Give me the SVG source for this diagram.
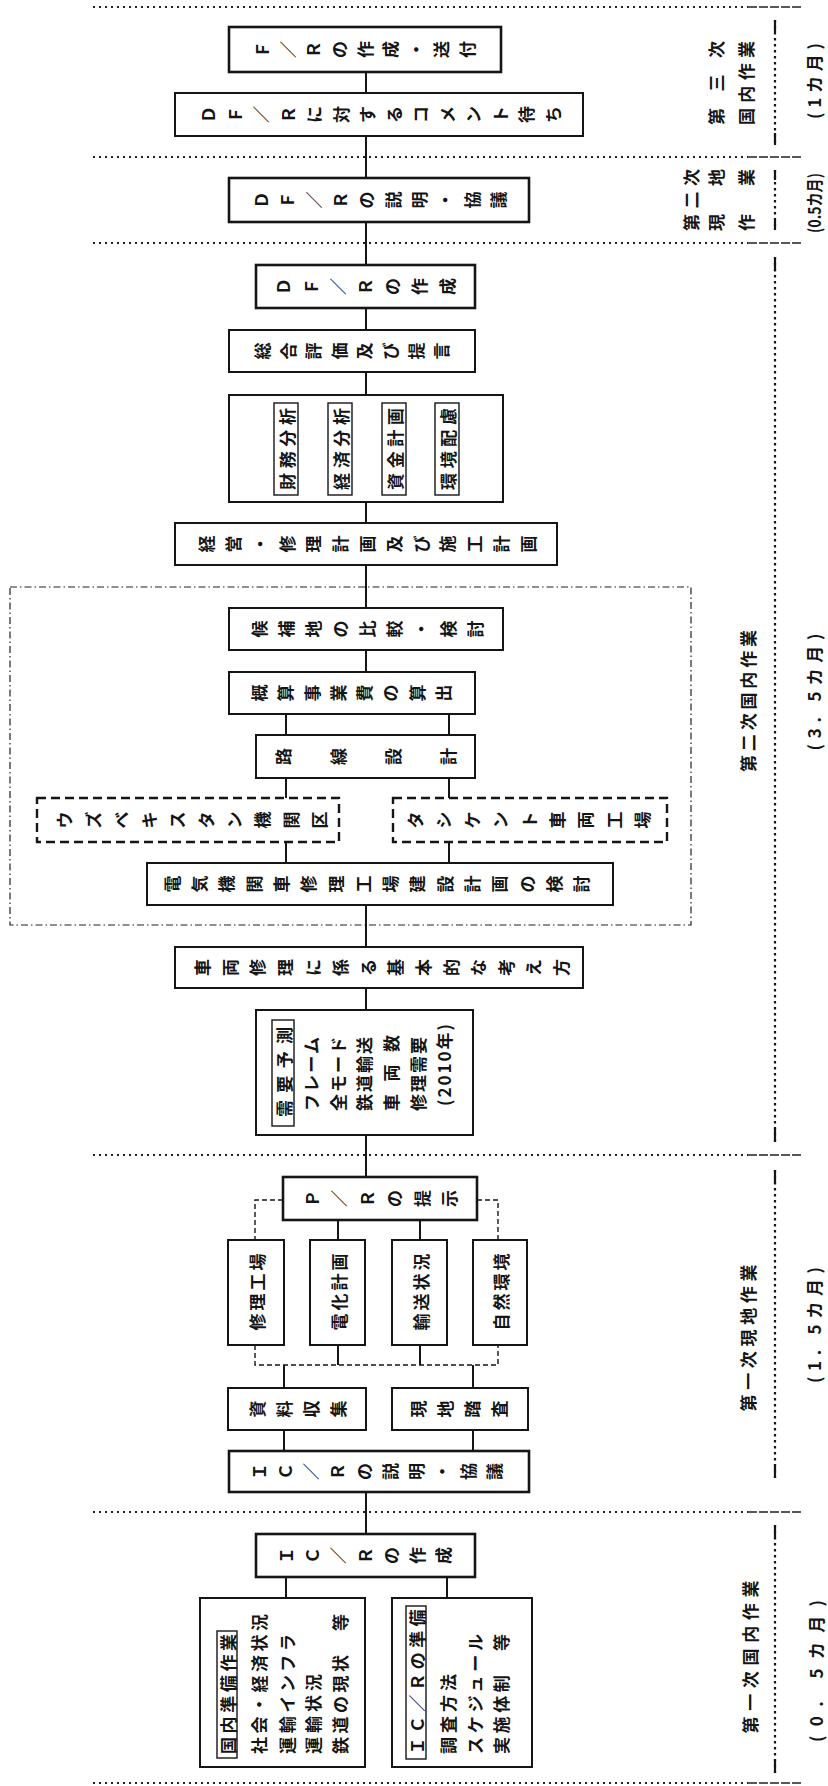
<svg xmlns="http://www.w3.org/2000/svg" width="828" height="1786" viewBox="0 0 828 1786">
<style>
.bx{fill:#fff;stroke:#151515;stroke-width:2}
.tk{stroke-width:2.6}
.dbx{fill:#fff;stroke:#151515;stroke-width:2.4;stroke-dasharray:9 5}
.grp{fill:none;stroke:#222;stroke-width:1.2;stroke-dasharray:7 3 1.5 3}
.fr{fill:#fff;stroke:#151515;stroke-width:1.4}
.ln{stroke:#151515;stroke-width:2;fill:none}
.dl{stroke:#151515;stroke-width:1.4;fill:none;stroke-dasharray:5 3}
.sep{stroke:#222;stroke-width:1.8;fill:none;stroke-dasharray:2 4}
.sep2{stroke:#222;stroke-width:1.3;fill:none;stroke-dasharray:9 2}
.br{stroke:#151515;stroke-width:2.2;fill:none;stroke-dasharray:2.5 3.5}
.bre{stroke:#151515;stroke-width:2.2;fill:none}
text{font-family:"Noto Sans CJK JP","Noto Sans CJK SC",sans-serif;fill:#151515;font-weight:bold}
.v{font-size:17px}
.h{font-size:17px;dominant-baseline:central}
.m{text-anchor:middle}
</style>

<g id="separators">
<line class="sep" x1="93" y1="7" x2="748" y2="7"/><line class="sep2" x1="748" y1="7" x2="802" y2="7"/>
<line class="sep" x1="93" y1="157" x2="748" y2="157"/><line class="sep2" x1="748" y1="157" x2="802" y2="157"/>
<line class="sep" x1="93" y1="243" x2="748" y2="243"/><line class="sep2" x1="748" y1="243" x2="802" y2="243"/>
<line class="sep" x1="93" y1="1155" x2="748" y2="1155"/><line class="sep2" x1="748" y1="1155" x2="802" y2="1155"/>
<line class="sep" x1="93" y1="1512" x2="748" y2="1512"/><line class="sep2" x1="748" y1="1512" x2="802" y2="1512"/>
<line class="sep" x1="93" y1="1783" x2="748" y2="1783"/><line class="sep2" x1="748" y1="1783" x2="802" y2="1783"/>
</g>

<g id="brackets">
<line class="br" x1="775" y1="20" x2="775" y2="145"/><path class="bre" d="M775 20v12M775 133v12"/>
<line class="br" x1="775" y1="170" x2="775" y2="230"/><path class="bre" d="M775 170v10M775 220v10"/>
<line class="br" x1="775" y1="257" x2="775" y2="1142"/><path class="bre" d="M775 257v14M775 1128v14"/>
<line class="br" x1="775" y1="1170" x2="775" y2="1478"/><path class="bre" d="M775 1170v14M775 1464v14"/>
<line class="br" x1="775" y1="1525" x2="775" y2="1773"/><path class="bre" d="M775 1525v14M775 1759v14"/>
</g>

<g id="phase-labels">
<text class="h m" transform="translate(715 83) rotate(-90)" textLength="84" lengthAdjust="spacing">第三次</text>
<text class="h m" transform="translate(745 83) rotate(-90)" textLength="84" lengthAdjust="spacing">国内作業</text>
<text class="h m" transform="translate(813 81) rotate(-90)" textLength="76" lengthAdjust="spacing">(1カ月)</text>
<text class="h m" transform="translate(690 200) rotate(-90)" textLength="62" lengthAdjust="spacing">第二次</text>
<text class="h m" transform="translate(715 200) rotate(-90)" textLength="62" lengthAdjust="spacing">現地</text>
<text class="h m" transform="translate(745 200) rotate(-90)" textLength="62" lengthAdjust="spacing">作業</text>
<text class="h m" transform="translate(813 203) rotate(-90)" textLength="60" lengthAdjust="spacingAndGlyphs">(0.5カ月)</text>
<text class="h m" transform="translate(747 701) rotate(-90)" textLength="142" lengthAdjust="spacing">第二次国内作業</text>
<text class="h m" transform="translate(813 692) rotate(-90)" textLength="117" lengthAdjust="spacing">(3. 5カ月)</text>
<text class="h m" transform="translate(747 1338) rotate(-90)" textLength="147" lengthAdjust="spacing">第一次現地作業</text>
<text class="h m" transform="translate(813 1325) rotate(-90)" textLength="116" lengthAdjust="spacing">(1. 5カ月)</text>
<text class="h m" transform="translate(749 1657) rotate(-90)" textLength="153" lengthAdjust="spacing">第一次国内作業</text>
<text class="h m" transform="translate(815 1671) rotate(-90)" textLength="142" lengthAdjust="spacing">(0. 5カ月)</text>
</g>

<rect id="group-second-domestic" class="grp" x="10" y="587" width="681" height="338"/>

<g id="connectors">
<path class="ln" d="M366 72V93M366 136V178M366 222V265M366 308V330M366 372V395M366 502V523M366 565V608M366 650V672"/>
<path class="ln" d="M286 714V735M449 714V735M286 778V798M449 778V798M286 842V863M449 842V863"/>
<path class="ln" d="M366 905V947M366 988V1010M366 1135V1177"/>
<path class="dl" d="M283 1200H255V1240M477 1200H498V1240"/>
<path class="ln" d="M338 1220V1240M420 1220V1240M338 1345V1365M420 1345V1365"/>
<path class="dl" d="M255 1345V1365H498V1345"/>
<path class="ln" d="M284 1365V1388M473 1365V1388M284 1430V1451M473 1430V1451"/>
<path class="ln" d="M366 1492V1534M286 1577V1598M447 1577V1598"/>
</g>

<g id="n-fr-send"><rect class="bx tk" x="229" y="27" width="272" height="45"/>
<text class="v" rotate="-90" x="269.1 294.7 320.3 345.9 371.5 397.1 422.7 448.3 473.9" y="58">Ｆ／Ｒの作成・送付</text></g>

<g id="n-df-comment"><rect class="bx" x="175" y="93" width="408" height="43"/>
<text class="v" rotate="-90" x="215.3 241.8 268.3 294.8 321.3 347.8 374.3 400.8 427.3 453.8 480.3 506.8 533.3 559.8" y="123">ＤＦ／Ｒに対するコメント待ち</text></g>

<g id="n-df-explain"><rect class="bx tk" x="229" y="178" width="300" height="44"/>
<text class="v" rotate="-90" x="268.1 294.4 320.7 347.0 373.3 399.6 425.9 452.2 478.5 504.8" y="208.5">ＤＦ／Ｒの説明・協議</text></g>

<g id="n-df-make"><rect class="bx tk" x="256" y="265" width="219" height="43"/>
<text class="v" rotate="-90" x="290.4 317.6 344.8 372.0 399.2 426.4 453.6" y="295">ＤＦ／Ｒの作成</text></g>

<g id="n-eval"><rect class="bx" x="229" y="330" width="246" height="42"/>
<text class="v" rotate="-90" x="268.9 294.5 320.1 345.7 371.3 396.9 422.5 448.1" y="359.5">総合評価及び提言</text></g>

<g id="n-analysis"><rect class="bx" x="229" y="395" width="274" height="107"/>
<rect class="fr" x="274" y="403" width="24" height="92"/>
<rect class="fr" x="328" y="403" width="24" height="92"/>
<rect class="fr" x="382" y="403" width="24" height="92"/>
<rect class="fr" x="435" y="403" width="24" height="92"/>
<text class="h m" transform="translate(286 449) rotate(-90)" textLength="82" lengthAdjust="spacing">財務分析</text>
<text class="h m" transform="translate(340 449) rotate(-90)" textLength="82" lengthAdjust="spacing">経済分析</text>
<text class="h m" transform="translate(394 449) rotate(-90)" textLength="82" lengthAdjust="spacing">資金計画</text>
<text class="h m" transform="translate(447 449) rotate(-90)" textLength="82" lengthAdjust="spacing">環境配慮</text></g>

<g id="n-plan"><rect class="bx" x="175" y="523" width="382" height="42"/>
<text class="v" rotate="-90" x="213.2 240.0 266.8 293.6 320.4 347.2 374.0 400.8 427.6 454.4 481.2 508.0 534.8" y="552.5">経営・修理計画及び施工計画</text></g>

<g id="n-candidate"><rect class="bx" x="229" y="608" width="274" height="42"/>
<text class="v" rotate="-90" x="266 293 320 347 374 401 428 455 482" y="637.5">候補地の比較・検討</text></g>

<g id="n-cost"><rect class="bx" x="229" y="672" width="246" height="42"/>
<text class="v" rotate="-90" x="265.9 292.2 318.5 344.8 371.1 397.4 423.7 450.0" y="701.5">概算事業費の算出</text></g>

<g id="n-route"><rect class="bx" x="256" y="735" width="219" height="43"/>
<text class="v" rotate="-90" x="289.5 317.1 344.7 372.3 399.9 427.5 455.1" y="765">路　線　設　計</text></g>

<g id="n-uzbek"><rect class="dbx" x="37" y="798" width="302" height="44"/>
<text class="v" rotate="-90" x="71.2 99.5 127.8 156.1 184.4 212.7 241.0 269.3 297.6 325.9" y="828.5">ウズベキスタン機関区</text></g>

<g id="n-tashkent"><rect class="dbx" x="393" y="798" width="274" height="44"/>
<text class="v" rotate="-90" x="421.9 450.3 478.7 507.1 535.5 563.9 592.3 620.7 649.1" y="828.5">タシケント車両工場</text></g>

<g id="n-elec"><rect class="bx" x="147" y="863" width="466" height="42"/>
<text class="v" rotate="-90" x="178.7 206.0 233.3 260.6 287.9 315.2 342.5 369.8 397.1 424.4 451.7 479.0 506.3 533.6 560.9 588.2" y="892.5">電気機関車修理工場建設計画の検討</text></g>

<g id="n-basic"><rect class="bx" x="175" y="947" width="408" height="41"/>
<text class="v" rotate="-90" x="209.1 236.7 264.3 291.9 319.5 347.1 374.7 402.3 429.9 457.5 485.1 512.7 540.3 567.9" y="976">車両修理に係る基本的な考え方</text></g>

<g id="n-demand"><rect class="bx" x="256" y="1010" width="217" height="125"/>
<rect class="fr" x="272" y="1020" width="22" height="106"/>
<text class="h m" transform="translate(283 1072) rotate(-90)" textLength="90" lengthAdjust="spacing">需要予測</text>
<text class="h" transform="translate(310 1111) rotate(-90)" textLength="74" lengthAdjust="spacing">フレーム</text>
<text class="h" transform="translate(337 1111) rotate(-90)" textLength="74" lengthAdjust="spacing">全モード</text>
<text class="h" transform="translate(363 1111) rotate(-90)" textLength="74" lengthAdjust="spacing">鉄道輸送</text>
<text class="h" transform="translate(390 1111) rotate(-90)" textLength="76" lengthAdjust="spacing">車両数</text>
<text class="h" transform="translate(417 1111) rotate(-90)" textLength="74" lengthAdjust="spacing">修理需要</text>
<text class="h" transform="translate(443 1106) rotate(-90)" textLength="82" lengthAdjust="spacing">(2010年)</text></g>

<g id="n-pr"><rect class="bx tk" x="283" y="1177" width="194" height="43"/>
<text class="v" rotate="-90" x="319 346.4 373.8 401.2 428.6 456.0" y="1207">Ｐ／Ｒの提示</text></g>

<g id="n-workshop"><rect class="bx" x="228" y="1240" width="56" height="105"/>
<text class="h m" transform="translate(256 1292) rotate(-90)" textLength="77" lengthAdjust="spacing">修理工場</text></g>
<g id="n-electrify"><rect class="bx" x="310" y="1240" width="55" height="105"/>
<text class="h m" transform="translate(338 1292) rotate(-90)" textLength="77" lengthAdjust="spacing">電化計画</text></g>
<g id="n-transport"><rect class="bx" x="392" y="1240" width="55" height="105"/>
<text class="h m" transform="translate(420 1292) rotate(-90)" textLength="77" lengthAdjust="spacing">輸送状況</text></g>
<g id="n-nature"><rect class="bx" x="473" y="1240" width="54" height="105"/>
<text class="h m" transform="translate(500 1292) rotate(-90)" textLength="77" lengthAdjust="spacing">自然環境</text></g>

<g id="n-collect"><rect class="bx" x="228" y="1388" width="138" height="42"/>
<text class="v" rotate="-90" x="264 291 318 345" y="1417.5">資料収集</text></g>
<g id="n-survey"><rect class="bx" x="392" y="1388" width="136" height="42"/>
<text class="v" rotate="-90" x="425 452 479 506" y="1417.5">現地踏査</text></g>

<g id="n-ic-explain"><rect class="bx tk" x="229" y="1451" width="300" height="41"/>
<text class="v" rotate="-90" x="266.1 292.2 318.3 344.4 370.5 396.6 422.7 448.8 474.9 501.0" y="1480">ＩＣ／Ｒの説明・協議</text></g>

<g id="n-ic-make"><rect class="bx tk" x="256" y="1534" width="219" height="43"/>
<text class="v" rotate="-90" x="292.9 319.1 345.3 371.5 397.7 423.9 450.1" y="1564">ＩＣ／Ｒの作成</text></g>

<g id="n-domestic-prep"><rect class="bx" x="200" y="1598" width="165" height="169"/>
<rect class="fr" x="217" y="1631" width="20" height="127"/>
<text class="h m" transform="translate(227 1694) rotate(-90)" textLength="120" lengthAdjust="spacing">国内準備作業</text>
<text class="h" transform="translate(258 1754) rotate(-90)" textLength="140" lengthAdjust="spacing">社会・経済状況</text>
<text class="h" transform="translate(286 1754) rotate(-90)" textLength="120" lengthAdjust="spacing">運輸インフラ</text>
<text class="h" transform="translate(312 1754) rotate(-90)" textLength="80" lengthAdjust="spacing">運輸状況</text>
<text class="h" transform="translate(339 1754) rotate(-90)" textLength="140" lengthAdjust="spacing">鉄道の現状　等</text></g>

<g id="n-ic-prep"><rect class="bx" x="392" y="1598" width="140" height="169"/>
<rect class="fr" x="406" y="1606" width="20" height="153"/>
<text class="h m" transform="translate(416 1682) rotate(-90)" textLength="145" lengthAdjust="spacing">ＩＣ／Ｒの準備</text>
<text class="h" transform="translate(447 1754) rotate(-90)" textLength="80" lengthAdjust="spacing">調査方法</text>
<text class="h" transform="translate(474 1754) rotate(-90)" textLength="120" lengthAdjust="spacing">スケジュール</text>
<text class="h" transform="translate(500 1754) rotate(-90)" textLength="120" lengthAdjust="spacing">実施体制　等</text></g>
</svg>
